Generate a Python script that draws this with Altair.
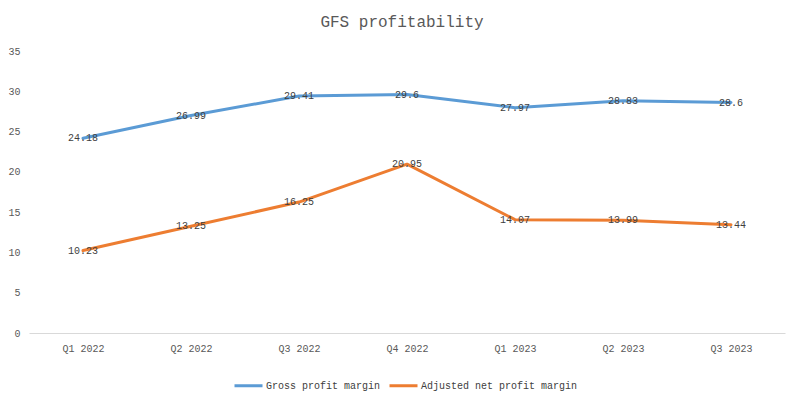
import altair as alt
import pandas as pd

quarters = ["Q1 2022", "Q2 2022", "Q3 2022", "Q4 2022", "Q1 2023", "Q2 2023", "Q3 2023"]
gross = [24.18, 26.99, 29.41, 29.6, 27.97, 28.83, 28.6]
adjusted = [10.23, 13.25, 16.25, 20.95, 14.07, 13.99, 13.44]
series_names = ["Gross profit margin", "Adjusted net profit margin"]
colors = ["#5B9BD5", "#ED7D31"]

rows = []
for q, g, a in zip(quarters, gross, adjusted):
    rows.append({"quarter": q, "series": series_names[0], "value": g})
    rows.append({"quarter": q, "series": series_names[1], "value": a})
df = pd.DataFrame(rows)

FONT = "Liberation Mono"

x = alt.X("quarter:N", sort=quarters, title=None,
          scale=alt.Scale(paddingInner=0, paddingOuter=0.5),
          axis=alt.Axis(labelAngle=0, ticks=False, domainColor="#d9d9d9",
                        labelColor="#595959", labelFontSize=10, labelPadding=10,
                        labelFont=FONT))
y = alt.Y("value:Q", title=None,
          scale=alt.Scale(domain=[0, 35]),
          axis=alt.Axis(values=[0, 5, 10, 15, 20, 25, 30, 35], grid=False, domain=False,
                        ticks=False, labelColor="#595959", labelFontSize=10,
                        labelPadding=9, labelFont=FONT))
color = alt.Color("series:N", sort=series_names,
                  scale=alt.Scale(domain=series_names, range=colors),
                  legend=alt.Legend(title=None, orient="none", direction="horizontal",
                                    legendX=204, legendY=319,
                                    symbolType="stroke", symbolStrokeWidth=3,
                                    symbolSize=784, labelFont=FONT, labelFontSize=10,
                                    labelColor="#404040", columnPadding=2,
                                    labelOffset=2, labelLimit=400))

base = alt.Chart(df)
lines = base.mark_line(strokeWidth=3, strokeCap="round", strokeJoin="round").encode(
    x=x, y=y, color=color, detail="series:N")
labels = base.mark_text(font=FONT, fontSize=10, color="#404040", baseline="middle",
                        align="center").encode(
    x=alt.X("quarter:N", sort=quarters), y="value:Q", text=alt.Text("value:Q"))

chart = (lines + labels).properties(
    width=756, height=282,
    title=alt.TitleParams("GFS profitability", font=FONT, fontSize=16,
                          fontWeight="normal", color="#595959", offset=16, dx=-5),
    autosize=alt.AutoSizeParams(type="none"),
    padding={"left": 21, "top": 43, "right": 10, "bottom": 62},
).configure_view(stroke=None)

chart.save("out.html", embed_options={"renderer": "svg", "actions": False})
